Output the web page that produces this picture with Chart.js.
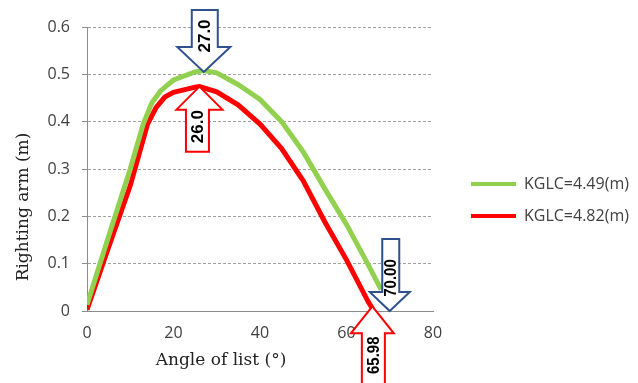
<!DOCTYPE html>
<html>
<head>
<meta charset="utf-8">
<script src="https://cdn.jsdelivr.net/npm/chart.js@4"></script>
<style>
  html, body { margin: 0; padding: 0; background: #fff; }
</style>
</head>
<body>
<canvas id="chart" width="638" height="383"></canvas>
<script>
// righting arm curves
const greenAngles = [0, 5, 10, 13, 15, 17, 20, 25, 27, 30, 35, 40, 45, 50, 55, 60, 65, 68];
const greenArm = [0.013, 0.158, 0.3, 0.395, 0.44, 0.465, 0.488, 0.505, 0.508, 0.503, 0.478, 0.447, 0.4, 0.336, 0.258, 0.183, 0.098, 0.045];

const redAngles = [0, 5, 10, 12, 14, 16, 18, 20, 25, 26, 30, 35, 40, 45, 50, 55, 60, 65, 66];
const redArm = [0.003, 0.135, 0.265, 0.33, 0.395, 0.43, 0.452, 0.462, 0.473, 0.474, 0.463, 0.435, 0.395, 0.343, 0.275, 0.188, 0.108, 0.02, 0.005];

const seriesNames = ["KGLC=4.49(m)", "KGLC=4.82(m)"];
const seriesColors = ["#92D050", "#FF0000"];

// arrow call-outs: angle, arm value at the tip, label
const markAngles = [27, 26, 70, 65.98];
const markArms = [0.505, 0.474, 0, 0.01];
const markLabels = ["27.0", "26.0", "70.00", "65.98"];

const xTitle = "Angle of list (\u00b0)";
const yTitle = "Righting arm (m)";

const tickFont = { family: "'Open Sans', sans-serif", size: 16 };
const tickColor = "#404040";

function toPoints(xs, ys) {
  return xs.map((x, i) => ({ x: x, y: ys[i] }));
}

// shape of each block arrow (pixels); dir 1 = points down, -1 = points up
const arrowStyles = [
  { dir: 1, len: 62, head: 25, headW: 53, shaftW: 26, textAt: 36, dx: 1, squeeze: 1, color: "#2F528F" },
  { dir: -1, len: 65, head: 23, headW: 46, shaftW: 23, textAt: 40, dx: -2, squeeze: 1, color: "#FF0000" },
  { dir: 1, len: 72, head: 19, headW: 40, shaftW: 17, textAt: 33, dx: 1, squeeze: 0.88, color: "#2F528F" },
  { dir: -1, len: 95, head: 27, headW: 43, shaftW: 23, textAt: 49, dx: 1, squeeze: 0.88, color: "#FF0000" },
];

function drawArrow(ctx, tx, ty, s, label) {
  const d = s.dir;
  const hb = ty - d * s.head;
  const se = ty - d * s.len;
  const cx = tx + s.dx;
  ctx.save();
  ctx.beginPath();
  ctx.moveTo(tx, ty);
  ctx.lineTo(tx + s.headW / 2, hb);
  ctx.lineTo(cx + s.shaftW / 2, hb);
  ctx.lineTo(cx + s.shaftW / 2, se);
  ctx.lineTo(cx - s.shaftW / 2, se);
  ctx.lineTo(cx - s.shaftW / 2, hb);
  ctx.lineTo(tx - s.headW / 2, hb);
  ctx.closePath();
  ctx.fillStyle = "#fff";
  ctx.fill();
  ctx.lineWidth = 2;
  ctx.lineJoin = "miter";
  ctx.strokeStyle = s.color;
  ctx.stroke();

  ctx.translate(cx, ty - d * s.textAt);
  ctx.rotate(-Math.PI / 2);
  ctx.scale(s.squeeze, 1);
  ctx.fillStyle = "#000";
  ctx.font = "bold 17px 'Liberation Sans', Arial, sans-serif";
  ctx.textAlign = "center";
  ctx.textBaseline = "middle";
  ctx.fillText(label, 0, 1);
  ctx.restore();
}

const calloutPlugin = {
  id: "callouts",
  beforeLayout(chart) {
    // fixed legend box width so the plot keeps its place
    const lg = chart.legend;
    if (lg && !lg._fixedFit) {
      const fit = lg.fit.bind(lg);
      lg.fit = function () {
        fit();
        this.width = 183;
      };
      lg._fixedFit = true;
    }
  },
  afterDraw(chart) {
    const ctx = chart.ctx;
    const xs = chart.scales.x;
    const ys = chart.scales.y;
    const area = chart.chartArea;

    // axis titles
    ctx.save();
    ctx.fillStyle = "#222";
    ctx.font = "17px 'DejaVu Serif', serif";
    ctx.textAlign = "center";
    ctx.textBaseline = "middle";
    ctx.fillText(xTitle, area.left + 134, 361);
    ctx.translate(24, 207);
    ctx.rotate(-Math.PI / 2);
    ctx.fillText(yTitle, 0, 0);
    ctx.restore();

    markAngles.forEach((a, i) => {
      drawArrow(ctx, xs.getPixelForValue(a), ys.getPixelForValue(markArms[i]), arrowStyles[i], markLabels[i]);
    });
  },
};

new Chart(document.getElementById("chart"), {
  type: "line",
  data: {
    datasets: [
      {
        label: seriesNames[0],
        data: toPoints(greenAngles, greenArm),
        borderColor: seriesColors[0],
        backgroundColor: seriesColors[0],
        borderWidth: 5,
        pointRadius: 0,
        tension: 0,
      },
      {
        label: seriesNames[1],
        data: toPoints(redAngles, redArm),
        borderColor: seriesColors[1],
        backgroundColor: seriesColors[1],
        borderWidth: 5,
        pointRadius: 0,
        tension: 0,
      },
    ],
  },
  options: {
    responsive: false,
    animation: false,
    layout: { padding: { left: 0, right: 0, top: 27, bottom: 10 } },
    plugins: {
      tooltip: { enabled: false },
      legend: {
        position: "right",
        align: "center",
        labels: {
          boxWidth: 45,
          boxHeight: 4,
          padding: 16,
          color: tickColor,
          font: tickFont,
          generateLabels: (chart) =>
            Chart.defaults.plugins.legend.labels.generateLabels(chart).map((l) => ({
              ...l,
              lineWidth: 0,
              fillStyle: l.strokeStyle,
            })),
        },
      },
    },
    scales: {
      x: {
        type: "linear",
        min: 0,
        max: 80,
        ticks: { stepSize: 20, color: tickColor, font: tickFont, padding: 13 },
        grid: { display: false, drawTicks: false },
        border: { display: true, color: "#8C8C8C", width: 1 },
        afterFit: (s) => { s.height = 62; },
      },
      y: {
        type: "linear",
        min: 0,
        max: 0.6,
        ticks: { stepSize: 0.1, color: tickColor, font: tickFont, padding: 12 },
        grid: { color: "#A0A0A0", lineWidth: 1, drawTicks: true, tickLength: 5, tickColor: "#8C8C8C", tickBorderDash: [] },
        border: { display: true, color: "#8C8C8C", width: 1, dash: [3, 2] },
        afterFit: (s) => { s.width = 87; },
      },
      gap: {
        type: "linear",
        position: "right",
        display: true,
        ticks: { display: false },
        grid: { display: false, drawTicks: false },
        border: { display: false },
        afterFit: (s) => { s.width = 22; },
      },
    },
  },
  plugins: [calloutPlugin],
});
</script>
</body>
</html>
